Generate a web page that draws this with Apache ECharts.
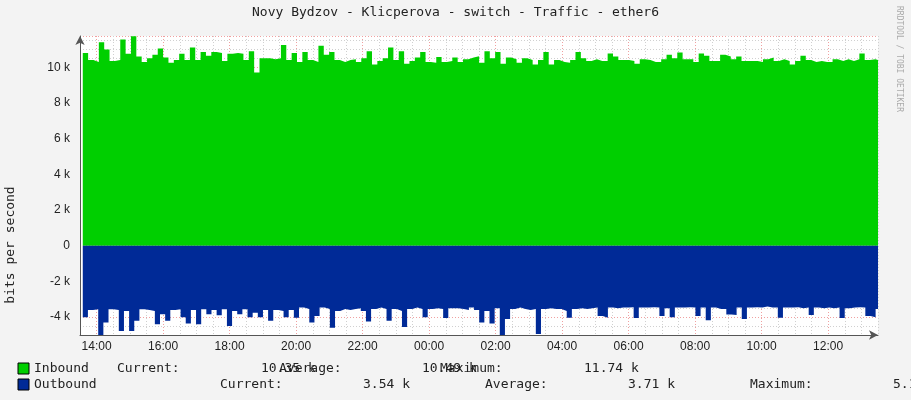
<!DOCTYPE html>
<html>
<head>
<meta charset="utf-8">
<script src="https://cdn.jsdelivr.net/npm/echarts@6/dist/echarts.min.js"></script>
<style>
  html, body { margin: 0; padding: 0; background: #f3f3f3; }
  #chart { width: 911px; height: 400px; }
</style>
</head>
<body>
<div id="chart"></div>
<script>
// values in k bits per second, one sample per ~10 min from 13:35 to 13:35 next day
var inbound = [
  10.5, 10.8, 10.4, 10.3, 11.4, 11.0, 10.35, 10.4, 11.55, 10.75, 11.74, 10.6, 10.3, 10.5, 10.7, 11.05,
  10.55, 10.25, 10.4, 10.75, 10.4, 11.1, 10.4, 10.85, 10.65, 10.85, 10.8, 10.35, 10.75, 10.8, 10.75,
  10.4, 10.9, 9.7, 10.5, 10.5, 10.45, 10.5, 11.25, 10.4, 10.8, 10.3,
  10.86, 10.4, 10.3, 11.2, 10.7, 10.86, 10.4, 10.3, 10.4, 10.45, 10.3, 10.5, 10.9, 10.15, 10.35, 10.5,
  11.1, 10.4, 10.9, 10.2, 10.35, 10.55, 10.86, 10.3, 10.25, 10.58, 10.3, 10.35, 10.55, 10.3, 10.45,
  10.55, 10.62, 10.25, 10.9, 10.5, 10.86, 10.2, 10.55, 10.45, 10.25, 10.5, 10.4, 10.15, 10.4, 10.86,
  10.15, 10.4, 10.3, 10.25, 10.4, 10.86, 10.5, 10.35, 10.45,
  10.35, 10.35, 10.77, 10.6, 10.4, 10.4, 10.35, 10.2, 10.45, 10.4, 10.3, 10.3, 10.45, 10.7, 10.5, 10.82,
  10.45, 10.45, 10.3, 10.77, 10.65, 10.35, 10.35, 10.7, 10.6, 10.45, 10.6, 10.35, 10.35, 10.35, 10.3,
  10.45, 10.55, 10.35, 10.45, 10.35, 10.15, 10.35, 10.65, 10.4, 10.3, 10.35, 10.3, 10.3, 10.45, 10.35,
  10.45, 10.35, 10.45, 10.77, 10.4, 10.45, 10.35
];
var outbound = [
  3.56, 4.0, 3.6, 3.56, 5.12, 4.3, 3.56, 3.6, 4.78, 3.65, 4.78, 4.2, 3.56, 3.6, 3.65, 4.4, 3.84, 4.2,
  3.6, 3.56, 4.0, 4.35, 3.6, 4.4, 3.56, 3.84, 3.6, 3.9, 3.56, 4.5, 3.65, 3.84, 3.56, 4.0, 3.75, 4.0,
  3.6, 4.2, 3.6, 3.65, 4.0, 3.6,
  4.03, 3.46, 3.55, 4.3, 3.93, 3.46, 3.55, 4.59, 3.65, 3.55, 3.6, 3.55, 3.5, 3.65, 4.25, 3.55, 3.46,
  3.55, 4.2, 3.55, 3.65, 4.55, 3.55, 3.46, 3.55, 4.0, 3.55, 3.5, 3.55, 4.05, 3.5, 3.5, 3.55, 3.6,
  3.46, 3.6, 4.3, 3.65, 4.35, 3.5, 5.06, 4.1, 3.55, 3.46, 3.55, 3.6, 3.55, 4.95, 3.55, 3.5, 3.55,
  3.55, 3.65, 4.03, 3.55, 3.5, 3.55,
  3.5, 3.46, 3.93, 4.03, 3.46, 3.5, 3.46, 3.46, 3.44, 4.05, 3.46, 3.46, 3.44, 3.46, 3.93, 3.5, 4.0,
  3.46, 3.46, 3.44, 3.46, 3.93, 3.46, 4.18, 3.46, 3.55, 3.55, 3.85, 3.88, 3.46, 4.1, 3.46, 3.44, 3.46,
  3.4, 3.46, 3.46, 4.03, 3.46, 3.46, 3.44, 3.5, 3.46, 3.88, 3.46, 3.5, 3.46, 3.5, 3.46, 4.05, 3.5,
  3.46, 3.44, 3.46, 3.93, 4.0, 3.54
];
var legendRows = [
  ['Inbound', 'Current:', '10.35 k', 'Average:', '10.49 k', 'Maximum:', '11.74 k'],
  ['Outbound', 'Current:', '3.54 k', 'Average:', '3.71 k', 'Maximum:', '5.12 k']
];
var startMin = 815, spanMin = 1440;

var mono = 'DejaVu Sans Mono';
var chart = echarts.init(document.getElementById('chart'));

function toPairs(arr, sign) {
  var step = spanMin / (arr.length - 1);
  return arr.map(function (v, i) { return [startMin + i * step, sign * v * 1000]; });
}

var grey = '#d0d0d0', red = '#f0a0a0';
var legendX = [[34, 117, 205, 279, 366, 440, 528], [34, 220, 315, 485, 580, 750, 845]];
var legendColors = ['#00CF00', '#002A97'];
var graphics = [
  { type: 'text', left: 'center', top: 6, style: { text: 'Novy Bydzov - Klicperova - switch - Traffic - ether6', font: '13px ' + mono, fill: '#222' } },
  { type: 'text', x: 903, y: 6, rotation: -Math.PI / 2, style: { text: 'RRDTOOL / TOBI OETIKER', font: '8px ' + mono, fill: '#aaa' } },
  { type: 'text', x: 4, y: 245, rotation: Math.PI / 2, style: { text: 'bits per second', font: '13px ' + mono, fill: '#222', align: 'center', verticalAlign: 'top' } }
];
legendRows.forEach(function (row, r) {
  var y = 362 + r * 16;
  graphics.push({ type: 'rect', shape: { x: 18, y: y + 1, width: 11, height: 11 }, style: { fill: legendColors[r], stroke: '#000', lineWidth: 1 } });
  row.forEach(function (t, c) {
    var right = c === 2 || c === 4 || c === 6;
    graphics.push({ type: 'text', x: right ? legendX[r][c] + t.length * 8 : legendX[r][c], y: y,
      style: { text: t, font: '13px ' + mono, fill: '#222' } });
  });
});

chart.setOption({
  backgroundColor: '#f3f3f3',
  animation: false,
  graphic: graphics,
  grid: { left: 80, right: 33, top: 36, bottom: 65, show: true, backgroundColor: '#fff', borderWidth: 0 },
  xAxis: {
    type: 'value', min: 810, max: 2250, interval: 30,
    axisLine: { onZero: false, lineStyle: { color: '#555' }, symbol: ['none', 'arrow'], symbolSize: [7, 9] },
    axisTick: { show: false },
    axisLabel: {
      font: '13px ' + mono, color: '#222', margin: 6,
      formatter: function (v) {
        if (v % 120 !== 0 || v === 2280) return '';
        var h = Math.floor(v / 60) % 24;
        return (h < 10 ? '0' : '') + h + ':00';
      }
    },
    splitLine: { show: true, lineStyle: { type: [1, 2], color: [grey, red, grey, grey] } }
  },
  yAxis: {
    type: 'value', min: -5000, max: 11750, interval: 500,
    axisLine: { show: true, lineStyle: { color: '#555' }, symbol: ['none', 'arrow'], symbolSize: [7, 9] },
    axisTick: { show: false },
    axisLabel: {
      font: '13px ' + mono, color: '#222', margin: 10,
      formatter: function (v) {
        if (v % 2000 !== 0) return '';
        return v === 0 ? '0' : (v / 1000) + ' k';
      }
    },
    splitLine: { show: true, lineStyle: { type: [1, 2], color: [grey, grey, red, grey] } }
  },
  series: [
    { name: 'Inbound', type: 'line', step: 'start', data: toPairs(inbound, 1), showSymbol: false,
      lineStyle: { width: 0 }, areaStyle: { color: '#00CF00', opacity: 1 }, z: 3 },
    { name: 'Outbound', type: 'line', step: 'start', data: toPairs(outbound, -1), showSymbol: false,
      lineStyle: { width: 0 }, areaStyle: { color: '#002A97', opacity: 1 }, z: 3 }
  ]
});
</script>
</body>
</html>
